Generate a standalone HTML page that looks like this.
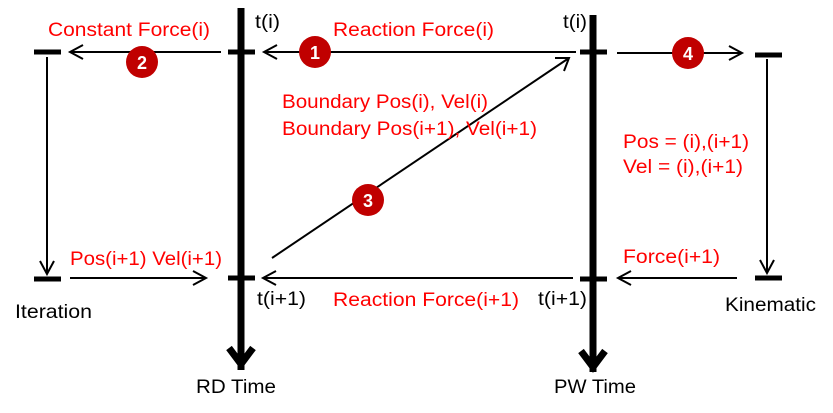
<!DOCTYPE html>
<html><head><style>body{margin:0;background:#fff}svg{display:block}text{font-family:"Liberation Sans",Arial,sans-serif;font-size:19px}.r{fill:#ff0000}.k{fill:#000}.n{fill:#fff;font-weight:bold;font-size:18px;text-anchor:middle}</style></head><body>
<svg width="833" height="413" viewBox="0 0 833 413">
<g stroke="#000" fill="none">
<line x1="241" y1="8" x2="241" y2="370" stroke-width="7"/>
<polyline points="229,348 241,364 253,348" stroke-width="7"/>
<line x1="593" y1="15" x2="593" y2="372" stroke-width="7"/>
<polyline points="581,351 593,367 605,351" stroke-width="7"/>
<g stroke-width="5">
<line x1="228" y1="52" x2="255" y2="52"/><line x1="228" y1="278" x2="255" y2="278"/>
<line x1="580" y1="52" x2="607" y2="52"/><line x1="580" y1="279" x2="607" y2="279"/>
<line x1="34" y1="52" x2="61" y2="52"/><line x1="34" y1="279" x2="61" y2="279"/>
<line x1="755" y1="55" x2="782" y2="55"/><line x1="755" y1="278" x2="782" y2="278"/>
</g>
<g stroke-width="2">
<line x1="576" y1="52" x2="264" y2="52"/><polyline points="277,45 264,52 277,59"/>
<line x1="221" y1="52" x2="70" y2="52"/><polyline points="83,45 70,52 83,59"/>
<line x1="617" y1="53" x2="742" y2="53"/><polyline points="729,46 742,53 729,60"/>
<line x1="47" y1="57" x2="47" y2="274"/><polyline points="40,261 47,274 54,261"/>
<line x1="767" y1="59" x2="767" y2="273"/><polyline points="760,260 767,273 774,260"/>
<line x1="70" y1="278" x2="206" y2="278"/><polyline points="193,271 206,278 193,285"/>
<line x1="573" y1="278" x2="263" y2="278"/><polyline points="276,271 263,278 276,285"/>
<line x1="737" y1="278" x2="618" y2="278"/><polyline points="631,271 618,278 631,285"/>
<line x1="272" y1="258" x2="569" y2="58"/><polyline points="555,58 569,58 564,71"/>
</g>
</g>
<g fill="#c00000">
<circle cx="315" cy="52" r="16"/><circle cx="142" cy="62" r="16"/><circle cx="368" cy="200" r="16"/><circle cx="688" cy="53" r="16"/>
</g>
<text class="n" x="315" y="59">1</text><text class="n" x="142" y="69">2</text><text class="n" x="368" y="207">3</text><text class="n" x="688" y="60">4</text>
<text class="r" x="48" y="36" textLength="162" lengthAdjust="spacingAndGlyphs">Constant Force(i)</text>
<text class="r" x="333" y="36" textLength="161" lengthAdjust="spacingAndGlyphs">Reaction Force(i)</text>
<text class="r" x="282" y="108" textLength="206" lengthAdjust="spacingAndGlyphs">Boundary Pos(i), Vel(i)</text>
<text class="r" x="282" y="135" textLength="255" lengthAdjust="spacingAndGlyphs">Boundary Pos(i+1), Vel(i+1)</text>
<text class="r" x="623" y="148" textLength="126" lengthAdjust="spacingAndGlyphs">Pos = (i),(i+1)</text>
<text class="r" x="623" y="173" textLength="120" lengthAdjust="spacingAndGlyphs">Vel = (i),(i+1)</text>
<text class="r" x="623" y="263" textLength="97" lengthAdjust="spacingAndGlyphs">Force(i+1)</text>
<text class="r" x="70" y="265" textLength="152" lengthAdjust="spacingAndGlyphs">Pos(i+1) Vel(i+1)</text>
<text class="r" x="333" y="306" textLength="186" lengthAdjust="spacingAndGlyphs">Reaction Force(i+1)</text>
<text class="k" x="255" y="28" textLength="25" lengthAdjust="spacingAndGlyphs">t(i)</text>
<text class="k" x="563" y="28" textLength="24" lengthAdjust="spacingAndGlyphs">t(i)</text>
<text class="k" x="257" y="305" textLength="49" lengthAdjust="spacingAndGlyphs">t(i+1)</text>
<text class="k" x="538" y="305" textLength="49" lengthAdjust="spacingAndGlyphs">t(i+1)</text>
<text class="k" x="15" y="318" textLength="77" lengthAdjust="spacingAndGlyphs">Iteration</text>
<text class="k" x="725" y="311" textLength="91" lengthAdjust="spacingAndGlyphs">Kinematic</text>
<text class="k" x="196" y="393" textLength="80" lengthAdjust="spacingAndGlyphs">RD Time</text>
<text class="k" x="554" y="393" textLength="82" lengthAdjust="spacingAndGlyphs">PW Time</text>
</svg>
</body></html>
